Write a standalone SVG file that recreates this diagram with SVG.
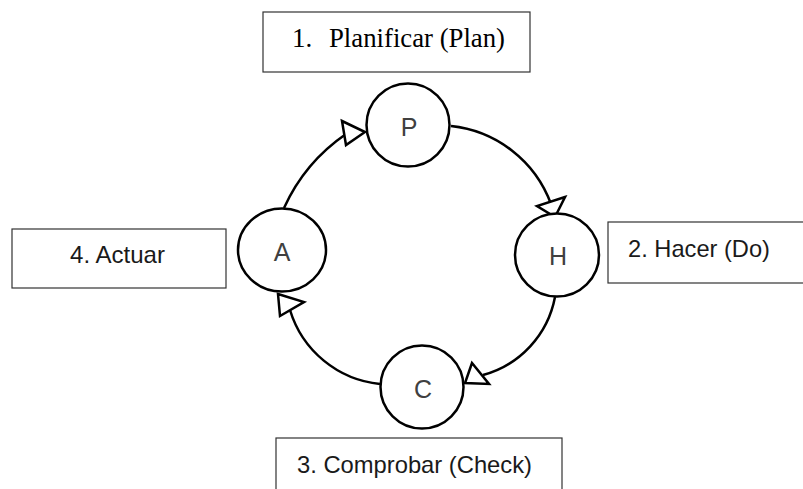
<svg xmlns="http://www.w3.org/2000/svg" width="803" height="489" viewBox="0 0 803 489">
<style>
.box{fill:#fff;stroke:#333;stroke-width:1.2}
.node{fill:#fff;stroke:#000;stroke-width:2.5}
.lbl{font-family:"Liberation Sans",Arial,sans-serif;font-size:24px;fill:#1a1a1a}
.ltr{font-family:"Liberation Sans",Arial,sans-serif;font-size:25px;fill:#404040;text-anchor:middle}
.tnr{font-family:"Liberation Serif","Times New Roman",serif;font-size:27px;fill:#000}
.arc{fill:none;stroke:#000;stroke-width:2.5}
.head{fill:#fff;stroke:#000;stroke-width:2.5;stroke-linejoin:miter}
</style>
<rect width="803" height="489" fill="#fff"/>
<g id="connectors">
<path class="arc" d="M284,208 A180,180 0 0 1 346,134"/>
<path class="arc" d="M451,126 A120,120 0 0 1 551,204"/>
<path class="arc" d="M555,297 A100,100 0 0 1 483,375"/>
<path class="arc" d="M380,384 A105,105 0 0 1 290,310"/>
<polygon class="head" points="342,121 365,132 346,145"/>
<polygon class="head" points="565,197 537,206 555,217"/>
<polygon class="head" points="472,363 465,383 489,384"/>
<polygon class="head" points="278,294 304,302 280,316"/>
</g>
<g id="label-plan">
<rect class="box" x="263" y="12" width="267" height="60"/>
<text class="tnr" x="292" y="47">1.</text>
<text class="tnr" x="329" y="47" textLength="176" lengthAdjust="spacingAndGlyphs">Planificar (Plan)</text>
</g>
<g id="label-hacer">
<rect class="box" x="608" y="222" width="205" height="61"/>
<text class="lbl" x="628" y="257" textLength="142" lengthAdjust="spacingAndGlyphs">2. Hacer (Do)</text>
</g>
<g id="label-comprobar">
<rect class="box" x="276" y="438" width="286" height="60"/>
<text class="lbl" x="297" y="473" textLength="235" lengthAdjust="spacingAndGlyphs">3. Comprobar (Check)</text>
</g>
<g id="label-actuar">
<rect class="box" x="12" y="229" width="214" height="59"/>
<text class="lbl" x="70" y="263" textLength="95" lengthAdjust="spacingAndGlyphs">4. Actuar</text>
</g>
<g id="node-P">
<circle class="node" cx="408" cy="125" r="41.5"/>
<text class="ltr" x="409" y="136">P</text>
</g>
<g id="node-H">
<ellipse class="node" cx="557" cy="255" rx="42" ry="41.5"/>
<text class="ltr" x="558" y="265">H</text>
</g>
<g id="node-C">
<circle class="node" cx="422" cy="387" r="41.5"/>
<text class="ltr" x="423" y="398">C</text>
</g>
<g id="node-A">
<ellipse class="node" cx="282" cy="250" rx="44" ry="41.5"/>
<text class="ltr" x="282" y="261">A</text>
</g>
</svg>
